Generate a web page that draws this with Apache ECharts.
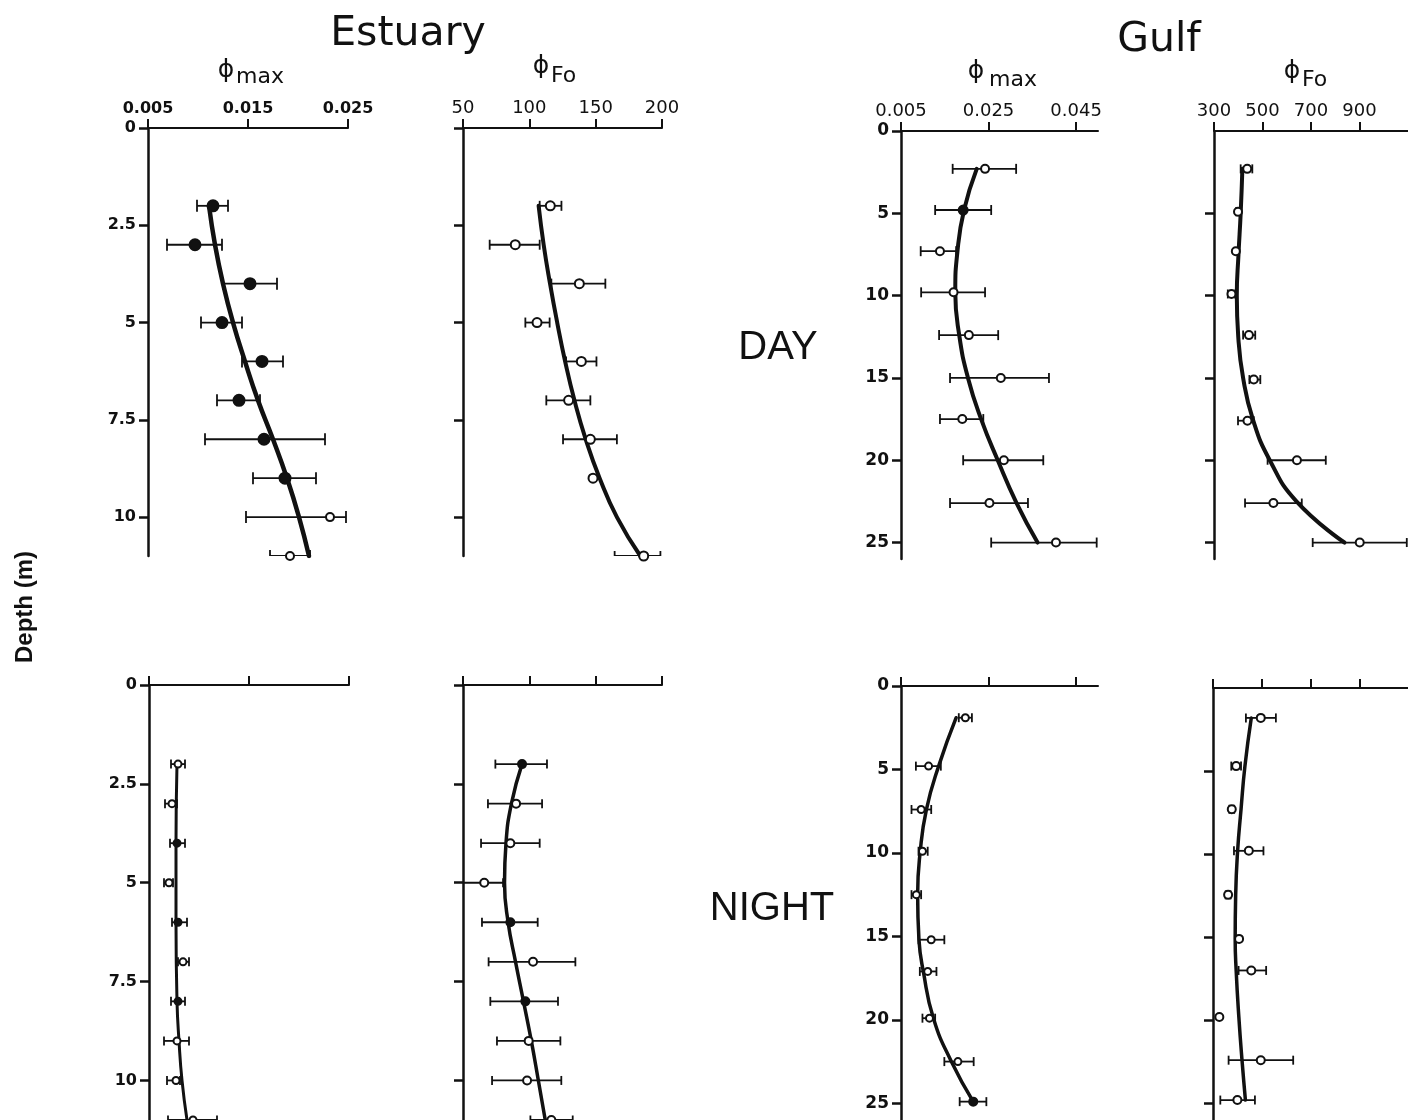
<!DOCTYPE html>
<html>
<head>
<meta charset="utf-8">
<script src="https://cdn.jsdelivr.net/npm/echarts@6/dist/echarts.min.js"></script>
<style>
  html, body { margin: 0; padding: 0; background: #fff; }
  #chart { width: 1408px; height: 1120px; }
</style>
</head>
<body>
<div id="chart"></div>
<script>
// ---- Estuary, day: phi_max ----
const estDayMaxDepth  = [2, 3, 4, 5, 6, 7, 8, 9, 10, 11];
const estDayMaxVal    = [0.0115, 0.0097, 0.0152, 0.0124, 0.0164, 0.0141, 0.0166, 0.0187, 0.0232, 0.0192];
const estDayMaxLo     = [0.0099, 0.0069, 0.0125, 0.0103, 0.0144, 0.0119, 0.0107, 0.0155, 0.0148, 0.0172];
const estDayMaxHi     = [0.0130, 0.0124, 0.0179, 0.0144, 0.0185, 0.0162, 0.0227, 0.0218, 0.0248, 0.0212];
const estDayMaxFilled = [1, 1, 1, 1, 1, 1, 1, 1, 0, 0];
const estDayMaxFitDepth = [2, 3, 4, 5, 6, 7, 8, 9, 10, 11];
const estDayMaxFit      = [0.0111, 0.0117, 0.0125, 0.0135, 0.0147, 0.0160, 0.0175, 0.0189, 0.0201, 0.0211];

// ---- Estuary, day: phi_Fo ----
const estDayFoDepth  = [2, 3, 4, 5, 6, 7, 8, 9, 11];
const estDayFoVal    = [115.8, 89.4, 137.7, 105.8, 139.2, 129.6, 146, 148, 186.2];
const estDayFoLo     = [107.8, 70.1, 116.6, 97, 127.7, 112.8, 125.4, null, 164.3];
const estDayFoHi     = [124.2, 107.8, 157.3, 115.3, 150.6, 146, 166, null, 198.8];
const estDayFoFilled = [0, 0, 0, 0, 0, 0, 0, 0, 0];
const estDayFoFitDepth = [2, 3, 4, 5, 6, 7, 8, 9, 10, 11];
const estDayFoFit      = [107, 110.8, 115.6, 121, 127, 134, 142.5, 153, 166, 183.7];

// ---- Gulf, day: phi_max ----
const gulfDayMaxDepth  = [2.3, 4.8, 7.3, 9.8, 12.4, 15, 17.5, 20, 22.6, 25];
const gulfDayMaxVal    = [0.0242, 0.0192, 0.0139, 0.0170, 0.0205, 0.0278, 0.0190, 0.0285, 0.0252, 0.0404];
const gulfDayMaxLo     = [0.0168, 0.0128, 0.0095, 0.0096, 0.0137, 0.0162, 0.0139, 0.0192, 0.0162, 0.0256];
const gulfDayMaxHi     = [0.0313, 0.0256, 0.0176, 0.0242, 0.0272, 0.0388, 0.0238, 0.0375, 0.0340, 0.0497];
const gulfDayMaxFilled = [0, 1, 0, 0, 0, 0, 0, 0, 0, 0];
const gulfDayMaxFitDepth = [2.3, 4.8, 7.3, 9.8, 12.4, 15, 17.5, 20, 22.6, 25];
const gulfDayMaxFit      = [0.0223, 0.0194, 0.0179, 0.0174, 0.0183, 0.0203, 0.0233, 0.0271, 0.0314, 0.0362];

// ---- Gulf, day: phi_Fo ----
const gulfDayFoDepth  = [2.3, 4.9, 7.3, 9.9, 12.4, 15.1, 17.6, 20, 22.6, 25];
const gulfDayFoVal    = [437, 399, 390, 372, 444, 464, 438, 642, 545, 901];
const gulfDayFoLo     = [410, 391, null, 357, 420, 446, 399, 521, 428, 707];
const gulfDayFoHi     = [458, 407, null, 387, 470, 491, 464, 761, 662, 1095];
const gulfDayFoFilled = [0, 0, 0, 0, 0, 0, 0, 0, 0, 0];
const gulfDayFoFitDepth = [2.3, 5, 7.5, 10, 12.5, 15, 17.5, 20, 22.5, 25];
const gulfDayFoFit      = [417, 410, 401, 394, 400, 420, 460, 530, 640, 838];

// ---- Estuary, night: phi_max ----
const estNightMaxDepth  = [2, 3, 4, 5, 6, 7, 8, 9, 10, 11];
const estNightMaxVal    = [0.0079, 0.0073, 0.0078, 0.0070, 0.0079, 0.0084, 0.0079, 0.0078, 0.0077, 0.0094];
const estNightMaxLo     = [0.0072, 0.0066, 0.0071, 0.0065, 0.0073, 0.0079, 0.0072, 0.0065, 0.0068, 0.0069];
const estNightMaxHi     = [0.0086, 0.0078, 0.0086, 0.0074, 0.0088, 0.0090, 0.0086, 0.0090, 0.0081, 0.0118];
const estNightMaxFilled = [0, 0, 1, 0, 1, 0, 1, 0, 0, 0];
const estNightMaxFitDepth = [2, 4, 6, 8, 9, 10, 11];
const estNightMaxFit      = [0.0078, 0.0077, 0.0077, 0.0078, 0.0080, 0.0083, 0.0088];

// ---- Estuary, night: phi_Fo ----
const estNightFoDepth  = [2, 3, 4, 5, 6, 7, 8, 9, 10, 11];
const estNightFoVal    = [94.5, 90, 85.7, 66, 85.7, 102.8, 97, 99.5, 98.3, 116.6];
const estNightFoLo     = [74.4, 68.8, 63.6, 45, 64.3, 69.3, 70.6, 75.6, 71.9, 100.8];
const estNightFoHi     = [113.3, 109.6, 107.8, 80.2, 106.3, 134.7, 121.6, 123.4, 124.1, 132.7];
const estNightFoFilled = [1, 0, 0, 0, 1, 0, 1, 0, 0, 0];
const estNightFoFitDepth = [2, 3, 4, 5, 6, 7, 8, 9, 10, 11];
const estNightFoFit      = [94.5, 86.5, 82.4, 81.3, 84, 89.6, 95.6, 101.5, 106.8, 112];

// ---- Gulf, night: phi_max ----
const gulfNightMaxDepth  = [1.9, 4.8, 7.4, 9.9, 12.5, 15.2, 17.1, 19.9, 22.5, 24.9];
const gulfNightMaxVal    = [0.0197, 0.0113, 0.0096, 0.0099, 0.0085, 0.0119, 0.0111, 0.0115, 0.0180, 0.0215];
const gulfNightMaxLo     = [0.0182, 0.0084, 0.0074, 0.0090, 0.0074, 0.0090, 0.0093, 0.0099, 0.0149, 0.0184];
const gulfNightMaxHi     = [0.0212, 0.0141, 0.0119, 0.0111, 0.0096, 0.0149, 0.0131, 0.0128, 0.0216, 0.0245];
const gulfNightMaxFilled = [0, 0, 0, 0, 0, 0, 0, 0, 0, 1];
const gulfNightMaxFitDepth = [1.9, 4.8, 7.4, 9.9, 12.5, 15.2, 17.1, 19.9, 22.5, 24.9];
const gulfNightMaxFit      = [0.0176, 0.0136, 0.0108, 0.0094, 0.0088, 0.0091, 0.0101, 0.0124, 0.0165, 0.0215];

// ---- Gulf, night: phi_Fo ----
const gulfNightFoDepth  = [1.8, 4.7, 7.3, 9.8, 12.45, 15.1, 17, 19.8, 22.4, 24.8];
const gulfNightFoVal    = [496, 395, 377, 447, 362, 407, 457, 326, 496, 400];
const gulfNightFoLo     = [435, 375, 367, 386, 352, null, 405, null, 364, 330];
const gulfNightFoHi     = [558, 415, 387, 507, 372, null, 518, null, 629, 472];
const gulfNightFoFilled = [0, 0, 0, 0, 0, 0, 0, 0, 0, 0];
const gulfNightFoFitDepth = [1.8, 4.7, 7.3, 9.8, 12.45, 15.1, 17, 19.8, 22.4, 24.8];
const gulfNightFoFit      = [457, 431, 415, 401, 393, 391, 395, 406, 419, 433];

// ---- Axis ticks ----
const estMaxTicks  = [0.005, 0.015, 0.025];
const estFoTicks   = [50, 100, 150, 200];
const gulfMaxTicks = [0.005, 0.025, 0.045];
const gulfFoTicks  = [300, 500, 700, 900];
const estDepthTicks  = [0, 2.5, 5, 7.5, 10];
const gulfDepthTicks = [0, 5, 10, 15, 20, 25];

const INK = '#111';
const LABEL_FONT = 'DejaVu Sans';

const panels = [
  { left: 148, top: 128, width: 200, height: 428, xMin: 0.005, xMax: 0.025, yMax: 11,
    xTicks: estMaxTicks, yTicks: estDepthTicks, xLabels: true, yLabels: true, xDigits: 3,
    xFont: 16, xBold: 'bold', yFont: 16, yPad: 12,
    depth: estDayMaxDepth, val: estDayMaxVal, lo: estDayMaxLo, hi: estDayMaxHi, filled: estDayMaxFilled,
    fitDepth: estDayMaxFitDepth, fit: estDayMaxFit, curveW: 4.5, cap: 12, dotFilled: 11, dotOpen: 8 },
  { left: 463, top: 128, width: 199, height: 428, xMin: 50, xMax: 200, yMax: 11,
    xTicks: estFoTicks, yTicks: estDepthTicks, xLabels: true, yLabels: false, xDigits: 0,
    xFont: 18, xBold: 'normal', yFont: 16, yPad: 12,
    depth: estDayFoDepth, val: estDayFoVal, lo: estDayFoLo, hi: estDayFoHi, filled: estDayFoFilled,
    fitDepth: estDayFoFitDepth, fit: estDayFoFit, curveW: 4, cap: 10, dotFilled: 9, dotOpen: 9 },
  { left: 901, top: 131, width: 197, height: 428, xMin: 0.005, xMax: 0.05, yMax: 26,
    xTicks: gulfMaxTicks, yTicks: gulfDepthTicks, xLabels: true, yLabels: true, xDigits: 3,
    xFont: 18, xBold: 'normal', yFont: 17, yPad: 9,
    depth: gulfDayMaxDepth, val: gulfDayMaxVal, lo: gulfDayMaxLo, hi: gulfDayMaxHi, filled: gulfDayMaxFilled,
    fitDepth: gulfDayMaxFitDepth, fit: gulfDayMaxFit, curveW: 4, cap: 10, dotFilled: 9, dotOpen: 8 },
  { left: 1214, top: 131, width: 224, height: 428, xMin: 300, xMax: 1100, yMax: 26,
    xTicks: gulfFoTicks, yTicks: gulfDepthTicks.slice(1), xLabels: true, yLabels: false, xDigits: 0,
    xFont: 18, xBold: 'normal', yFont: 17, yPad: 9,
    depth: gulfDayFoDepth, val: gulfDayFoVal, lo: gulfDayFoLo, hi: gulfDayFoHi, filled: gulfDayFoFilled,
    fitDepth: gulfDayFoFitDepth, fit: gulfDayFoFit, curveW: 4, cap: 9, dotFilled: 8, dotOpen: 8 },
  { left: 149, top: 685, width: 200, height: 435, xMin: 0.005, xMax: 0.025, yMax: 11,
    xTicks: estMaxTicks, yTicks: estDepthTicks, xLabels: false, yLabels: true, xDigits: 3,
    xFont: 16, xBold: 'bold', yFont: 16, yPad: 14,
    depth: estNightMaxDepth, val: estNightMaxVal, lo: estNightMaxLo, hi: estNightMaxHi, filled: estNightMaxFilled,
    fitDepth: estNightMaxFitDepth, fit: estNightMaxFit, curveW: 3, cap: 9, dotFilled: 7, dotOpen: 7 },
  { left: 463, top: 685, width: 199, height: 435, xMin: 50, xMax: 200, yMax: 11,
    xTicks: estFoTicks, yTicks: estDepthTicks, xLabels: false, yLabels: false, xDigits: 0,
    xFont: 18, xBold: 'normal', yFont: 16, yPad: 14,
    depth: estNightFoDepth, val: estNightFoVal, lo: estNightFoLo, hi: estNightFoHi, filled: estNightFoFilled,
    fitDepth: estNightFoFitDepth, fit: estNightFoFit, curveW: 3.5, cap: 9, dotFilled: 8, dotOpen: 8 },
  { left: 901, top: 686, width: 197, height: 434, xMin: 0.005, xMax: 0.05, yMax: 26,
    xTicks: gulfMaxTicks, yTicks: gulfDepthTicks, xLabels: false, yLabels: true, xDigits: 3,
    xFont: 18, xBold: 'normal', yFont: 17, yPad: 9,
    depth: gulfNightMaxDepth, val: gulfNightMaxVal, lo: gulfNightMaxLo, hi: gulfNightMaxHi, filled: gulfNightMaxFilled,
    fitDepth: gulfNightMaxFitDepth, fit: gulfNightMaxFit, curveW: 3.5, cap: 9, dotFilled: 8, dotOpen: 7 },
  { left: 1213, top: 688, width: 224, height: 434, xMin: 300, xMax: 1100, yMax: 26,
    xTicks: gulfFoTicks, yTicks: gulfDepthTicks.slice(1), xLabels: false, yLabels: false, xDigits: 0,
    xFont: 18, xBold: 'normal', yFont: 17, yPad: 9,
    depth: gulfNightFoDepth, val: gulfNightFoVal, lo: gulfNightFoLo, hi: gulfNightFoHi, filled: gulfNightFoFilled,
    fitDepth: gulfNightFoFitDepth, fit: gulfNightFoFit, curveW: 3.5, cap: 9, dotFilled: 8, dotOpen: 8 }
];

const grid = [], xAxis = [], yAxis = [], series = [];

panels.forEach((p, i) => {
  grid.push({ left: p.left, top: p.top, width: p.width, height: p.height });

  xAxis.push({
    type: 'value', gridIndex: i, position: 'top', min: p.xMin, max: p.xMax,
    splitLine: { show: false },
    axisLine: { show: true, onZero: false, lineStyle: { color: INK, width: 2 } },
    axisTick: { show: true, length: 9, customValues: p.xTicks, lineStyle: { color: INK, width: 2 } },
    axisLabel: {
      show: p.xLabels, customValues: p.xTicks, margin: 11,
      color: INK, fontFamily: LABEL_FONT, fontSize: p.xFont, fontWeight: p.xBold,
      formatter: v => v.toFixed(p.xDigits)
    }
  });

  yAxis.push({
    type: 'value', gridIndex: i, inverse: true, min: 0, max: p.yMax,
    splitLine: { show: false },
    axisLine: { show: true, onZero: false, lineStyle: { color: INK, width: 2.5 } },
    axisTick: { show: true, length: 9, customValues: p.yTicks, lineStyle: { color: INK, width: 2.5 } },
    axisLabel: {
      show: p.yLabels, customValues: p.yTicks, margin: 12,
      color: INK, fontFamily: LABEL_FONT, fontSize: p.yFont, fontWeight: 'bold',
      padding: [p.yPad, 0, 0, 0],
      formatter: v => String(v)
    }
  });

  // fitted profile
  series.push({
    type: 'line', xAxisIndex: i, yAxisIndex: i, silent: true,
    data: p.fitDepth.map((d, k) => [p.fit[k], d]),
    smooth: 0.5, showSymbol: false, z: 2,
    lineStyle: { color: INK, width: p.curveW, cap: 'round' }
  });

  // horizontal error bars with end caps
  const bars = [];
  p.depth.forEach((d, k) => { if (p.lo[k] != null) bars.push([p.lo[k], p.hi[k], d]); });
  series.push({
    type: 'custom', xAxisIndex: i, yAxisIndex: i, silent: true, z: 3, clip: true,
    data: bars, encode: { x: [0, 1], y: 2 },
    renderItem: (params, api) => {
      const a = api.coord([api.value(0), api.value(2)]);
      const b = api.coord([api.value(1), api.value(2)]);
      const h = p.cap / 2;
      const st = { stroke: INK, lineWidth: 1.8 };
      return {
        type: 'group',
        children: [
          { type: 'line', shape: { x1: a[0], y1: a[1], x2: b[0], y2: b[1] }, style: st },
          { type: 'line', shape: { x1: a[0], y1: a[1] - h, x2: a[0], y2: a[1] + h }, style: st },
          { type: 'line', shape: { x1: b[0], y1: b[1] - h, x2: b[0], y2: b[1] + h }, style: st }
        ]
      };
    }
  });

  // observations
  series.push({
    type: 'scatter', xAxisIndex: i, yAxisIndex: i, silent: true, z: 4,
    data: p.depth.map((d, k) => [p.val[k], d, p.filled[k]]),
    symbol: 'circle',
    symbolSize: v => (v[2] ? p.dotFilled : p.dotOpen),
    itemStyle: {
      color: params => (params.data[2] ? INK : '#fff'),
      borderColor: INK, borderWidth: 2, opacity: 1
    }
  });
});

// headings and side labels
const txt = (x, y, text, font, align) => ({
  type: 'text', x: x, y: y, silent: true,
  style: { text: text, font: font, fill: INK, textAlign: align || 'center', textVerticalAlign: 'middle' }
});

const graphic = [
  txt(408, 34, 'Estuary', '41px "DejaVu Sans"'),
  txt(1159, 40, 'Gulf', '41px "DejaVu Sans"'),

  txt(226, 70, 'ϕ', '25px "DejaVu Sans"'),
  txt(236, 77, 'max', '22px "DejaVu Sans"', 'left'),
  txt(541, 66, 'ϕ', '25px "DejaVu Sans"'),
  txt(551, 76, 'Fo', '22px "DejaVu Sans"', 'left'),
  txt(976, 71, 'ϕ', '25px "DejaVu Sans"'),
  txt(989, 80, 'max', '22px "DejaVu Sans"', 'left'),
  txt(1292, 71, 'ϕ', '25px "DejaVu Sans"'),
  txt(1302, 80, 'Fo', '22px "DejaVu Sans"', 'left'),

  txt(778, 348, 'DAY', '40px "Liberation Sans"'),
  txt(772, 909, 'NIGHT', '40px "Liberation Sans"'),
  {
    type: 'text', x: 25, y: 607, rotation: Math.PI / 2, silent: true,
    style: { text: 'Depth (m)', font: 'bold 24px "Liberation Sans"', fill: INK,
             textAlign: 'center', textVerticalAlign: 'middle' }
  }
];

const chart = echarts.init(document.getElementById('chart'), null, { renderer: 'canvas' });
chart.setOption({
  backgroundColor: '#fff',
  animation: false,
  grid: grid,
  xAxis: xAxis,
  yAxis: yAxis,
  series: series,
  graphic: graphic
});
</script>
</body>
</html>
